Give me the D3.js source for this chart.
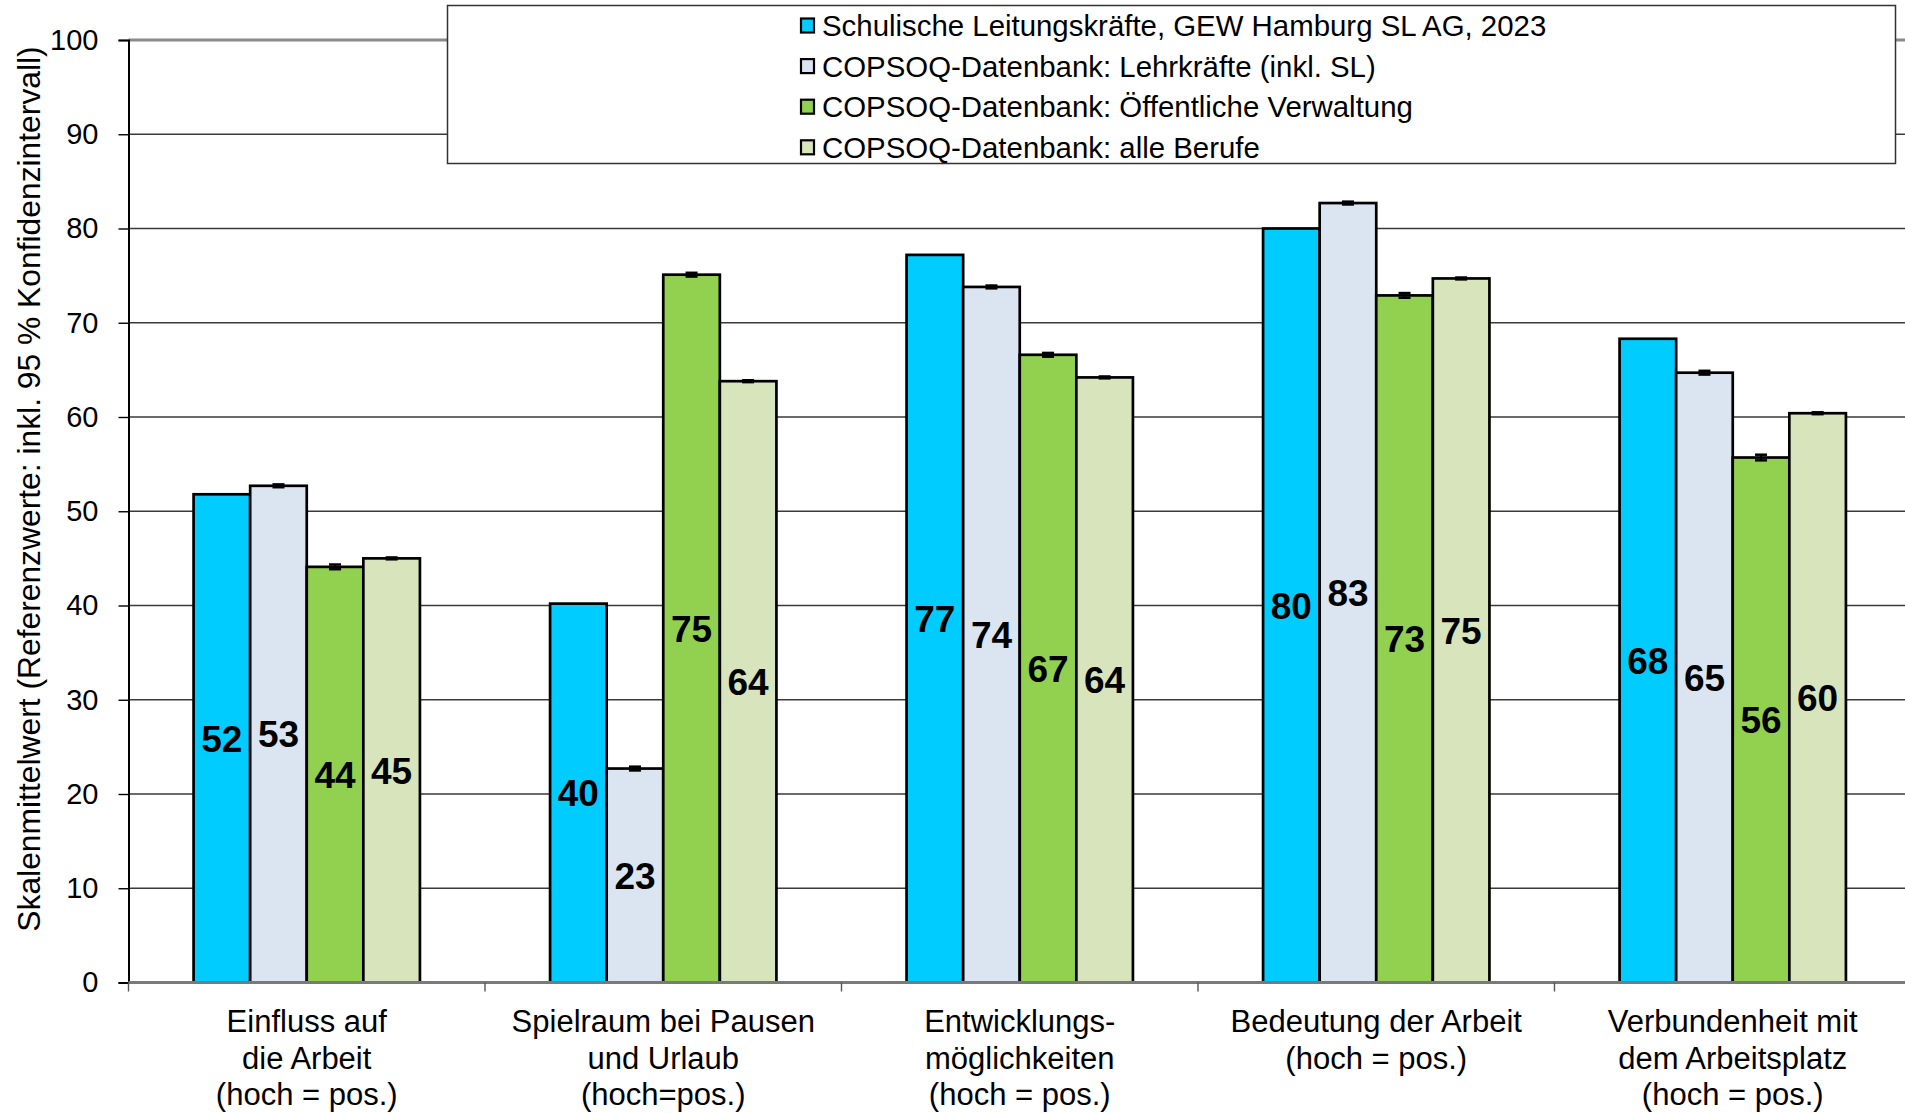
<!DOCTYPE html>
<html>
<head>
<meta charset="utf-8">
<script src="https://cdn.jsdelivr.net/npm/d3@7"></script>
<style>
  html, body { margin: 0; padding: 0; background: #fff; overflow: hidden; }
  svg { display: block; font-family: "Liberation Sans", Arial, sans-serif; }
</style>
</head>
<body>
<svg id="chart" width="1905" height="1113"></svg>
<script>
// Scale categories (each label split into lines)
const categories = [
  "Einfluss auf|die Arbeit|(hoch = pos.)",
  "Spielraum bei Pausen|und Urlaub|(hoch=pos.)",
  "Entwicklungs-|möglichkeiten|(hoch = pos.)",
  "Bedeutung der Arbeit|(hoch = pos.)",
  "Verbundenheit mit|dem Arbeitsplatz|(hoch = pos.)"
];

const seriesNames = [
  "Schulische Leitungskräfte, GEW Hamburg SL AG, 2023",
  "COPSOQ-Datenbank: Lehrkräfte (inkl. SL)",
  "COPSOQ-Datenbank: Öffentliche Verwaltung",
  "COPSOQ-Datenbank: alle Berufe"
];
const seriesColors = ["#00CCFF", "#DBE5F1", "#92D050", "#D7E4BC"];

// Mean scale values per series
const slHamburg   = [51.8, 40.2, 77.2, 80.0, 68.3];
const lehrkraefte = [52.7, 22.7, 73.8, 82.7, 64.7];
const verwaltung  = [44.1, 75.1, 66.6, 72.9, 55.7];
const alleBerufe  = [45.0, 63.8, 64.2, 74.7, 60.4];

// Half-width of the 95 % confidence interval (reference data only)
const ciLehrkraefte = [0.15, 0.2, 0.15, 0.15, 0.2];
const ciVerwaltung  = [0.25, 0.2, 0.2, 0.25, 0.3];
const ciAlleBerufe  = [0.1, 0.1, 0.1, 0.1, 0.1];

const yTicks = [0, 10, 20, 30, 40, 50, 60, 70, 80, 90, 100];

const seriesValues = [slHamburg, lehrkraefte, verwaltung, alleBerufe];
const seriesCI = [null, ciLehrkraefte, ciVerwaltung, ciAlleBerufe];

const svg = d3.select("#chart");
const plot = { left: 128.5, right: 1911, top: 40, bottom: 982.5 };

const x0 = d3.scaleBand().domain(categories).range([plot.left, plot.right]);
const x1 = d3.scaleBand().domain(d3.range(4)).range([0, x0.bandwidth()]).paddingOuter(1.15);
const y = d3.scaleLinear().domain([0, 100]).range([plot.bottom, plot.top]);

// Horizontal gridlines
svg.append("g").selectAll("line")
  .data(yTicks.filter(t => t > 0 && t < 100))
  .join("line")
  .attr("x1", plot.left).attr("x2", 1905)
  .attr("y1", d => y(d)).attr("y2", d => y(d))
  .attr("stroke", "#3a3a3a").attr("stroke-width", 1.4);

// Top border of the plot area
svg.append("line")
  .attr("x1", plot.left).attr("x2", 1905)
  .attr("y1", y(100)).attr("y2", y(100))
  .attr("stroke", "#8a8a8a").attr("stroke-width", 3);

// Y axis
const yAxis = svg.append("g")
  .attr("transform", `translate(${plot.left},0)`)
  .call(d3.axisLeft(y).tickValues(yTicks).tickSize(10).tickPadding(20).tickFormat(d3.format("d")));
yAxis.select(".domain").attr("stroke", "#000").attr("stroke-width", 2);
yAxis.selectAll(".tick line").attr("stroke", "#000").attr("stroke-width", 1.4);
yAxis.selectAll(".tick text")
  .attr("font-size", 29).attr("fill", "#000")
  .attr("font-family", "'Liberation Sans', Arial, sans-serif");

// Bars
const groups = svg.append("g").selectAll("g")
  .data(categories)
  .join("g")
  .attr("transform", d => `translate(${x0(d)},0)`);

const barData = (c, ci) => d3.range(4).map(s => ({
  s, value: seriesValues[s][ci], ci: seriesCI[s] ? seriesCI[s][ci] : null
}));

groups.each(function(c, ci) {
  const g = d3.select(this);
  const data = barData(c, ci);

  g.selectAll("rect")
    .data(data)
    .join("rect")
    .attr("x", d => x1(d.s))
    .attr("y", d => y(d.value))
    .attr("width", x1.bandwidth())
    .attr("height", d => y(0) - y(d.value))
    .attr("fill", d => seriesColors[d.s])
    .attr("stroke", "#000")
    .attr("stroke-width", 2.7);

  // Confidence interval whiskers
  const eb = g.selectAll("g.err")
    .data(data.filter(d => d.ci !== null))
    .join("g").attr("class", "err");
  const cx = d => x1(d.s) + x1.bandwidth() / 2;
  eb.append("line")
    .attr("x1", cx).attr("x2", cx)
    .attr("y1", d => y(d.value - d.ci)).attr("y2", d => y(d.value + d.ci))
    .attr("stroke", "#000").attr("stroke-width", 2);
  [-1, 1].forEach(sign => {
    eb.append("line")
      .attr("x1", d => cx(d) - 6).attr("x2", d => cx(d) + 6)
      .attr("y1", d => y(d.value + sign * d.ci)).attr("y2", d => y(d.value + sign * d.ci))
      .attr("stroke", "#000").attr("stroke-width", 2.5);
  });

  // Value labels in the middle of each bar
  g.selectAll("text.val")
    .data(data)
    .join("text").attr("class", "val")
    .attr("x", d => x1(d.s) + x1.bandwidth() / 2)
    .attr("y", d => (y(d.value) + y(0)) / 2)
    .attr("dy", "0.36em")
    .attr("text-anchor", "middle")
    .attr("font-size", 37).attr("font-weight", "bold")
    .text(d => d3.format(".0f")(d.value));
});

// X axis baseline with boundary ticks
const xAxis = svg.append("g");
xAxis.append("line")
  .attr("x1", plot.left).attr("x2", 1905)
  .attr("y1", y(0)).attr("y2", y(0))
  .attr("stroke", "#7a7a7a").attr("stroke-width", 3);
xAxis.selectAll("line.tick")
  .data(categories)
  .join("line").attr("class", "tick")
  .attr("x1", d => x0(d)).attr("x2", d => x0(d))
  .attr("y1", y(0)).attr("y2", y(0) + 9)
  .attr("stroke", "#555").attr("stroke-width", 1.4);

// Category labels
const catLabels = svg.append("g").selectAll("text")
  .data(categories)
  .join("text")
  .attr("text-anchor", "middle")
  .attr("font-size", 31)
  .attr("x", d => x0(d) + x0.bandwidth() / 2)
  .attr("y", 1032);
catLabels.selectAll("tspan")
  .data(d => d.split("|"))
  .join("tspan")
  .attr("x", function() { return d3.select(this.parentNode).attr("x"); })
  .attr("dy", (d, i) => i === 0 ? 0 : 36.5)
  .text(d => d);

// Y axis title
svg.append("text")
  .attr("transform", "translate(40,489) rotate(-90)")
  .attr("text-anchor", "middle")
  .attr("font-size", 31.8)
  .text("Skalenmittelwert (Referenzwerte: inkl. 95 % Konfidenzintervall)");

// Legend
const legend = svg.append("g");
legend.append("rect")
  .attr("x", 447.5).attr("y", 5.5)
  .attr("width", 1448).attr("height", 158)
  .attr("fill", "#fff").attr("stroke", "#333").attr("stroke-width", 1.5);
const items = legend.selectAll("g.item")
  .data(seriesNames)
  .join("g").attr("class", "item")
  .attr("transform", (d, i) => `translate(800,${25.5 + i * 40.6})`);
items.append("rect")
  .attr("x", 1).attr("y", -7).attr("width", 13).attr("height", 14)
  .attr("fill", (d, i) => seriesColors[i])
  .attr("stroke", "#000").attr("stroke-width", 2.2);
items.append("text")
  .attr("x", 22).attr("dy", "0.36em")
  .attr("font-size", 29.4)
  .text(d => d);
</script>
</body>
</html>
